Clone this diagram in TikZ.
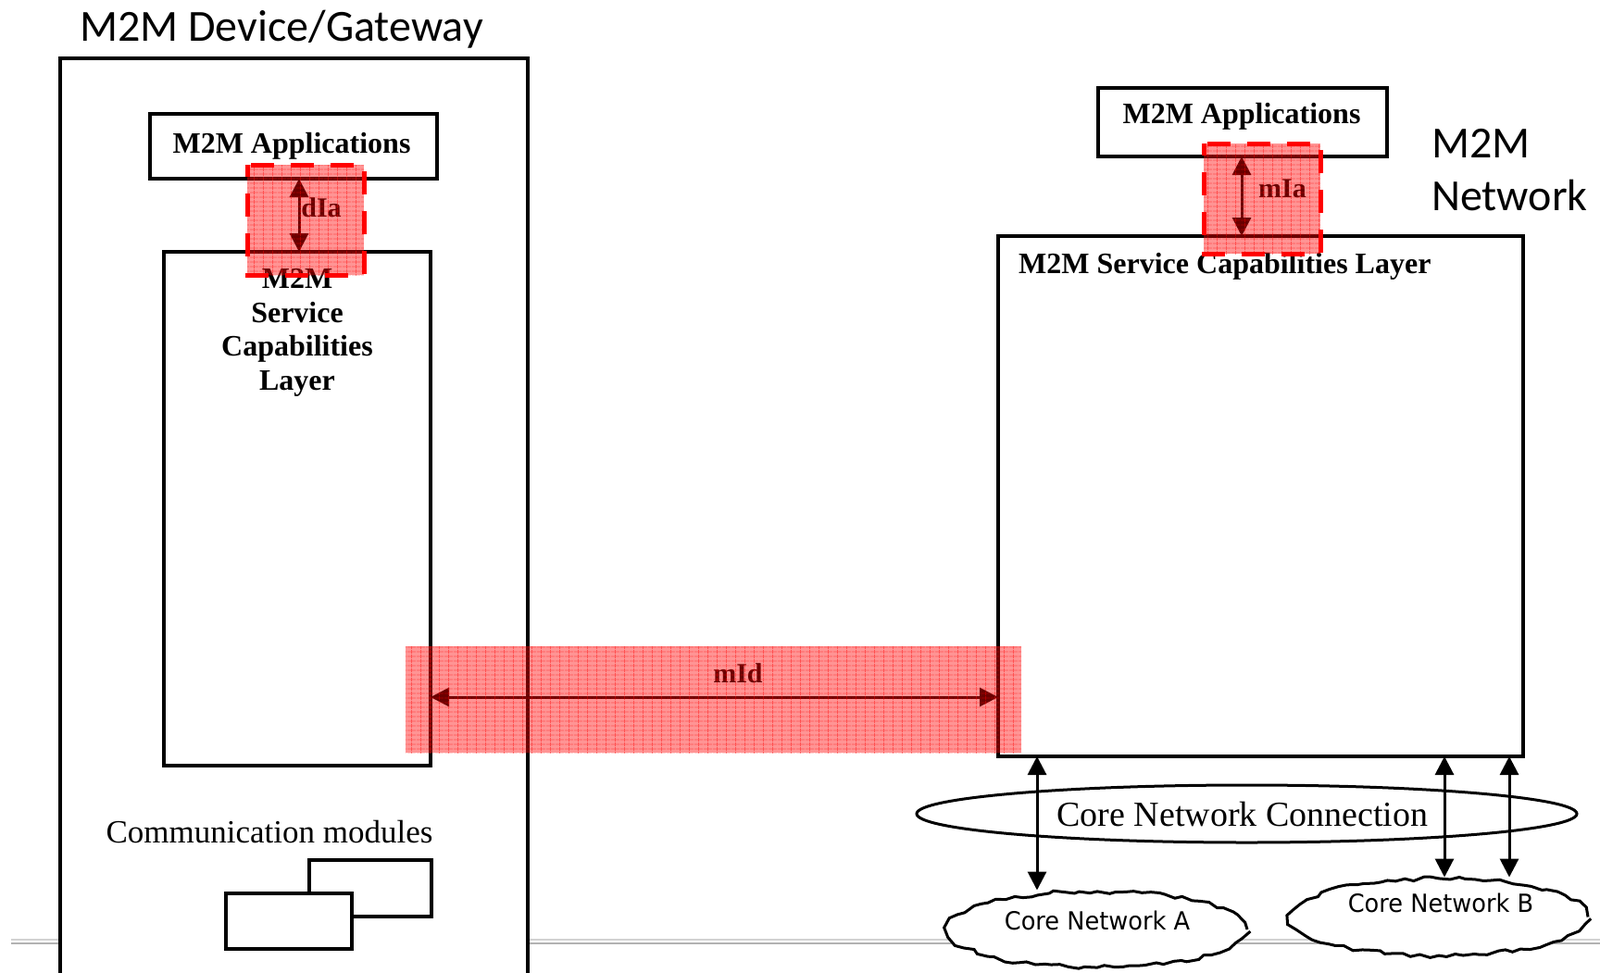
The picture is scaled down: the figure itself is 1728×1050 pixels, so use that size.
\documentclass[tikz,border=0pt]{standalone}
\usepackage{fontspec}
\setmainfont{Liberation Serif}
\newfontfamily\calib{Carlito}
\newfontfamily\cloudf[FakeStretch=0.95]{DejaVu Sans}
\usetikzlibrary{arrows.meta,shapes.geometric,decorations.pathmorphing,patterns.meta}

\tikzdeclarepattern{
  name=redgrid,
  type=uncolored,
  bounding box={(0pt,0pt) and (10pt,5pt)},
  tile size={(10pt,5pt)},
  code={
    \draw[line width=0.9pt] (0pt,2.5pt) -- (10pt,2.5pt);
    \draw[line width=0.9pt] (5pt,0pt) -- (5pt,5pt);
  }
}

\tikzset{
  box/.style={draw, line width=3.2pt, fill=white, inner sep=0pt, outer sep=0pt, rectangle},
  lbl/.style={inner sep=0pt, font=\bfseries\fontsize{32}{36.5}\selectfont},
  ifl/.style={inner sep=0pt, font=\bfseries\fontsize{30}{32}\selectfont},
  arr/.style={line width=3pt, {Triangle[length=20pt,width=20pt]}-{Triangle[length=20pt,width=20pt]}},
  redzone/.style={rectangle, inner sep=0pt, outer sep=0pt, fill=red, fill opacity=0.42},
  reddash/.style={draw=red, line width=5pt, dash pattern=on 25pt off 18pt, dash phase=12pt},
  redgridfill/.style={pattern=redgrid, pattern color=red, fill opacity=0.45},
  cloudshape/.style={ellipse, draw, fill=white, line width=3pt, inner sep=0pt, decorate,
    decoration={random steps, segment length=9pt, amplitude=2.5pt}},
  title/.style={inner sep=0pt, font=\calib\fontsize{48}{57}\selectfont},
  cloudtext/.style={inner sep=0pt, font=\cloudf\fontsize{27}{29}\selectfont},
}

\begin{document}
\begin{tikzpicture}[x=1pt,y=-1pt]
\useasboundingbox (0,0) rectangle (1728,1050);
\clip (0,0) rectangle (1728,1050);

% slide separator line
\coordinate (gl) at (12,1017);
\coordinate (gr) at (1728,1017);
\draw[gray!60, line width=2pt] ([yshift=-1.8pt]gl) -- ([yshift=-1.8pt]gr);
\draw[gray!35, line width=2pt] ([yshift=1.8pt]gl) -- ([yshift=1.8pt]gr);

% M2M Device/Gateway
\node[box, line width=3.5pt, minimum width=505pt, minimum height=1010pt] (dev) at (317.5,568) {};
\node[title, anchor=base west] (devt) at (86,44) {M2M Device/Gateway};

\node[box, minimum width=310pt, minimum height=70pt] (lapp) at (317,158) {};
\node[lbl, anchor=base] (lappt) at (315,165) {M2M Applications};

\node[box, minimum width=288pt, minimum height=555pt] (lscl) at (321,549.5) {};
\node[lbl, anchor=north, align=center] (lsclt) at (321,290.5) {M2M\\Service\\Capabilities\\Layer};

\node[inner sep=0pt, anchor=base, font=\fontsize{35}{38}\selectfont] (cm) at (291,910) {Communication modules};
\node[box, minimum width=132pt, minimum height=61pt] (cm1) at (400,959.5) {};
\node[box, minimum width=136pt, minimum height=60pt] (cm2) at (312,995) {};

% M2M Network
\node[box, minimum width=312pt, minimum height=74pt] (rapp) at (1342,132) {};
\node[lbl, anchor=base] (rappt) at (1341,133) {M2M Applications};

\node[box, minimum width=567pt, minimum height=562pt] (nscl) at (1361.5,536) {};
\node[lbl, anchor=base west] (nsclt) at (1100,295) {M2M Service Capabilities Layer};

\node[title, anchor=north west, align=left] (nett) at (1546,139.5) {M2M\\Network};

\node[ellipse, draw, line width=3pt, minimum width=713pt, minimum height=62pt, inner sep=0pt] (cnc) at (1346.5,879) {};
\node[inner sep=0pt, anchor=base, font=\fontsize{38}{40}\selectfont] (cnct) at (1342,892) {Core Network Connection};

\node[cloudshape, minimum width=324pt, minimum height=82pt] (cna) at (1185,1004) {};
\node[cloudtext, anchor=base] (cnat) at (1185,1004) {Core Network A};
\node[cloudshape, minimum width=322pt, minimum height=83pt] (cnb) at (1554,990.5) {};
\node[cloudtext, anchor=base] (cnbt) at (1556,985) {Core Network B};

% arrows
\coordinate (diax) at (323,0);
\coordinate (miax) at (1341,0);
\coordinate (midy) at (0,753);
\coordinate (ca) at (1120,0);
\coordinate (cb1) at (1560,0);
\coordinate (cb2) at (1630,0);
\draw[arr] (lapp.south -| diax) -- (lscl.north -| diax);
\draw[arr] (rapp.south -| miax) -- (nscl.north -| miax);
\draw[arr] (lscl.east |- midy) -- (nscl.west |- midy);
\draw[arr] (nscl.south -| ca) -- (cna.north -| ca);
\draw[arr] (nscl.south -| cb1) -- (cnb.north -| cb1);
\draw[arr] (nscl.south -| cb2) -- (cnb.north -| cb2);

\node[ifl, anchor=base] (dial) at (347,234) {dIa};
\node[ifl, anchor=base] (mial) at (1385,213) {mIa};
\node[ifl, anchor=base] (midl) at (797,737) {mId};

% red overlays
\node[redzone, minimum width=126pt, minimum height=119pt] (diaz) at (330,237.5) {};
\path[redgridfill] (diaz.north west) rectangle (diaz.south east);
\draw[reddash] (diaz.north west) rectangle (diaz.south east);

\node[redzone, minimum width=126pt, minimum height=119pt] (miaz) at (1363,214.5) {};
\path[redgridfill] (miaz.north west) rectangle (miaz.south east);
\draw[reddash] (miaz.north west) rectangle (miaz.south east);

\node[redzone, minimum width=665pt, minimum height=115pt] (midz) at (770.5,755.5) {};
\path[redgridfill] (midz.north west) rectangle (midz.south east);
\end{tikzpicture}
\end{document}
